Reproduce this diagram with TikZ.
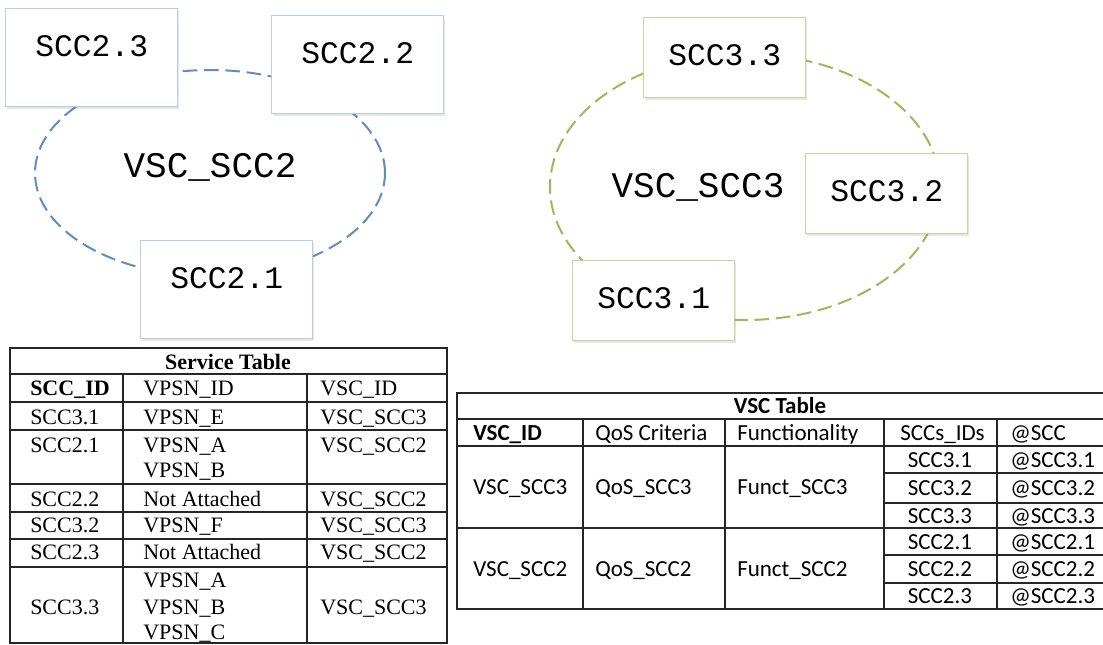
\documentclass[tikz,border=0pt]{standalone}
\usepackage{fontspec}
\usetikzlibrary{shadows}
\newfontfamily\boxfont{Liberation Mono}
\newfontfamily\servfont{Liberation Serif}
\newfontfamily\vscfont{Carlito}
\definecolor{boxblue}{RGB}{185,205,229}
\definecolor{boxgreen}{RGB}{195,214,155}
\definecolor{ringblue}{RGB}{95,140,196}
\definecolor{ringgreen}{RGB}{155,187,89}
\tikzset{
  sccbox/.style={fill=white,line width=1.1pt,anchor=north west,inner sep=0pt,
    font=\boxfont\fontsize{23.5}{28}\selectfont,
    drop shadow={shadow xshift=1pt,shadow yshift=-1.5pt,opacity=0.2}},
  scctwo/.style={sccbox,draw=boxblue,minimum width=129pt,text height=36pt,text depth=37.5pt},
  sccthree/.style={sccbox,draw=boxgreen,minimum width=121.5pt,text height=35.6pt,text depth=24.4pt},
  ring/.style={line width=1.5pt,dash pattern=on 11pt off 5pt},
  vsclabel/.style={anchor=base,inner sep=0pt,font=\boxfont\fontsize{27}{32}\selectfont},
  tabline/.style={line width=1.3pt,black!85},
  servtext/.style={anchor=base west,inner sep=0pt,font=\servfont\fontsize{16.5}{19}\selectfont},
  servhead/.style={servtext,font=\servfont\fontsize{16.5}{19}\selectfont\bfseries},
  vsctext/.style={anchor=base west,inner sep=0pt,font=\vscfont\fontsize{17.25}{20}\selectfont},
  vschead/.style={vsctext,font=\vscfont\fontsize{17.25}{20}\selectfont\bfseries}
}
\begin{document}
\begin{tikzpicture}[x=0.75pt,y=-0.75pt]
 \useasboundingbox (0,0) rectangle (1103,644);
 \clip (0,0) rectangle (1103,644);

 \draw[ring,ringblue] (210,173) ellipse [x radius=131.25pt,y radius=77.25pt];
 \draw[ring,ringgreen] (745,187) ellipse [x radius=146.25pt,y radius=99.75pt];

 \node[scctwo] (s23) at (5,8) {SCC2.3};
 \node[scctwo] (s22) at (271,15) {SCC2.2};
 \node[scctwo] (s21) at (140,240) {SCC2.1};
 \node[vsclabel] (v2) at (210,177) {VSC\_SCC2};

 \node[sccthree] (s33) at (643,17) {SCC3.3};
 \node[sccthree] (s32) at (805,153) {SCC3.2};
 \node[sccthree] (s31) at (572,260) {SCC3.1};
 \node[vsclabel] (v3) at (698,197) {VSC\_SCC3};

 \draw[tabline] (10,348) rectangle (447,643);
 \foreach \y in {374,402,430,484,512,539,567}
  \draw[tabline] (10,\y) -- (447,\y);
 \foreach \x in {123,307}
  \draw[tabline] (\x,374) -- (\x,643);
 \node[servhead,anchor=base] (st) at (228,369) {Service Table};
 \node[servhead] (sh1) at (30,395) {SCC\_ID};
 \node[servtext] (sh2) at (143,395) {VPSN\_ID};
 \node[servtext] (sh3) at (320,395) {VSC\_ID};
 \foreach \n/\x/\y/\t in {
  a1/30/424/SCC3.1, a2/143/424/VPSN\_E, a3/320/424/VSC\_SCC3,
  b1/30/452/SCC2.1, b2/143/452/VPSN\_A, b4/143/477/VPSN\_B, b3/320/452/VSC\_SCC2,
  c1/30/506/SCC2.2, c2/143/506/Not Attached, c3/320/506/VSC\_SCC2,
  d1/30/532/SCC3.2, d2/143/532/VPSN\_F, d3/320/532/VSC\_SCC3,
  e1/30/559/SCC2.3, e2/143/559/Not Attached, e3/320/559/VSC\_SCC2,
  f1/30/614/SCC3.3, f2/143/587/VPSN\_A, f4/143/614/VPSN\_B, f5/143/639/VPSN\_C, f3/320/614/VSC\_SCC3}
  \node[servtext] (\n) at (\x,\y) {\t};

 \draw[tabline] (457,393) rectangle (1106,609);
 \foreach \y in {419,446,528}
  \draw[tabline] (457,\y) -- (1106,\y);
 \foreach \y in {473,503,555,583}
  \draw[tabline] (884,\y) -- (1106,\y);
 \foreach \x in {583,725,884,997}
  \draw[tabline] (\x,419) -- (\x,609);
 \node[vschead,anchor=base] (vt) at (780,413) {VSC Table};
 \node[vschead] (vh1) at (473,440) {VSC\_ID};
 \node[vsctext] (vh2) at (595,440) {QoS Criteria};
 \node[vsctext] (vh3) at (737,440) {Functionality};
 \node[vsctext] (vh4) at (900,440) {SCCs\_IDs};
 \node[vsctext] (vh5) at (1010,440) {@SCC};
 \node[vsctext] (g1) at (473,494) {VSC\_SCC3};
 \node[vsctext] (g2) at (595,494) {QoS\_SCC3};
 \node[vsctext] (g3) at (737,494) {Funct\_SCC3};
 \node[vsctext] (h1) at (473,576) {VSC\_SCC2};
 \node[vsctext] (h2) at (595,576) {QoS\_SCC2};
 \node[vsctext] (h3) at (737,576) {Funct\_SCC2};
 \foreach \n/\y/\t in {k1/467/3.1,k2/495/3.2,k3/523/3.3,k4/549/2.1,k5/576/2.2,k6/603/2.3}{
  \node[vsctext,anchor=base] (\n) at (940,\y) {SCC\t};
  \node[vsctext] (\n a) at (1010,\y) {@SCC\t};
 }
\end{tikzpicture}
\end{document}
